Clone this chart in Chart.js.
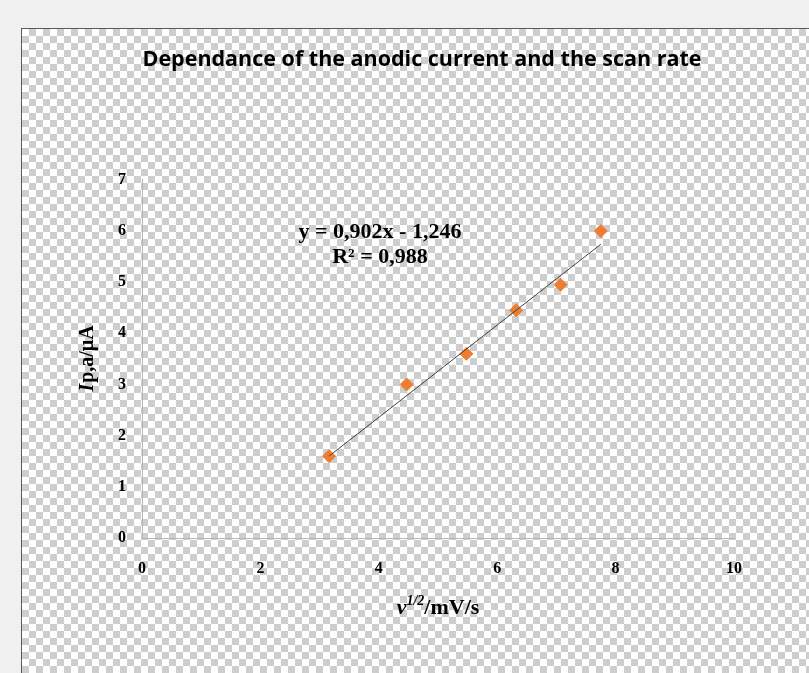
<!DOCTYPE html>
<html>
<head>
<meta charset="utf-8">
<title>Dependance of the anodic current and the scan rate</title>
<script src="https://cdn.jsdelivr.net/npm/chart.js@4.4.0/dist/chart.umd.min.js"></script>
<style>
    html, body { margin: 0; padding: 0; width: 809px; height: 673px; overflow: hidden; background: #f0f0f0; }
    #frame {
        position: absolute; left: 21px; top: 28px; width: 787px; height: 644px;
        border-top: 1px solid #5a5a5a; border-left: 1px solid #5a5a5a;
        background-color: #fff;
        background-image: conic-gradient(#cecece 25%, #fff 0 50%, #cecece 0 75%, #fff 0);
        background-size: 14px 14px;
    }
    #wrap { position: absolute; left: 0; top: 0; width: 787px; height: 644px; }
</style>
</head>
<body>
<div id="frame"><div id="wrap"><canvas id="ipChart"></canvas></div></div>
<script>
// ---- data ----
const sqrtScanRate = [3.16, 4.47, 5.48, 6.32, 7.07, 7.75];   // v^1/2
const peakCurrent  = [1.60, 3.00, 3.60, 4.45, 4.95, 6.00];   // Ip,a / µA
const trendX = [3.16, 7.75];
const trendY = [1.60, 5.74];
const xTicks = [0, 2, 4, 6, 8, 10];
const yTicks = [0, 1, 2, 3, 4, 5, 6, 7];
const equationLines = ['y = 0,902x - 1,246', 'R\u00b2 = 0,988'];
const equationPos = { x: 4.02, y: [5.98, 5.49] };

const SERIF = "'Liberation Serif', 'Times New Roman', serif";

// axis titles + trendline equation (mixed italic / superscript text)
const labelsPlugin = {
    id: 'labels',
    afterDraw(chart) {
        const ctx = chart.ctx;
        const area = chart.chartArea;
        const xs = chart.scales.x, ys = chart.scales.y;
        ctx.save();
        ctx.fillStyle = '#000';
        ctx.textBaseline = 'middle';

        // equation
        ctx.font = 'bold 22px ' + SERIF;
        ctx.textAlign = 'center';
        equationLines.forEach((t, i) => {
            ctx.fillText(t, xs.getPixelForValue(equationPos.x), ys.getPixelForValue(equationPos.y[i]));
        });

        // y title: "Ip,a/µA" with italic I
        ctx.textAlign = 'left';
        const fI = 'italic bold 20px ' + SERIF, fR = 'bold 20px ' + SERIF;
        ctx.font = fI; const wI = ctx.measureText('I').width;
        ctx.font = fR; const wR = ctx.measureText('p,a/\u00b5A').width;
        ctx.save();
        ctx.translate(area.left - 54, (area.top + area.bottom) / 2);
        ctx.rotate(-Math.PI / 2);
        let x0 = -(wI + wR) / 2;
        ctx.font = fI; ctx.fillText('I', x0, 0);
        ctx.font = fR; ctx.fillText('p,a/\u00b5A', x0 + wI + 1, 0);
        ctx.restore();

        // x title: "v^1/2/mV/s"
        const fv = 'italic bold 22px ' + SERIF, fs = 'italic bold 14px ' + SERIF, fm = 'bold 22px ' + SERIF;
        ctx.font = fv; const wv = ctx.measureText('v').width;
        ctx.font = fs; const ws = ctx.measureText('1/2').width;
        ctx.font = fm; const wm = ctx.measureText('/mV/s').width;
        const cy = area.bottom + 70;
        x0 = (area.left + area.right) / 2 - (wv + ws + wm) / 2;
        ctx.font = fv; ctx.fillText('v', x0, cy);
        ctx.font = fs; ctx.fillText('1/2', x0 + wv, cy - 7);
        ctx.font = fm; ctx.fillText('/mV/s', x0 + wv + ws, cy);
        ctx.restore();
    }
};

new Chart(document.getElementById('ipChart'), {
    type: 'scatter',
    data: {
        datasets: [
            {
                label: 'Linear trend',
                type: 'line',
                data: trendX.map((x, i) => ({ x: x, y: trendY[i] })),
                borderColor: '#404040',
                borderWidth: 1,
                pointRadius: 0,
                fill: false,
                order: 0,
            },
            {
                label: 'Ip,a',
                data: sqrtScanRate.map((x, i) => ({ x: x, y: peakCurrent[i] })),
                pointStyle: 'rectRot',
                pointRadius: 6.5,
                pointHoverRadius: 6.5,
                backgroundColor: '#ed7d31',
                borderColor: '#ed7d31',
                borderWidth: 1,
                order: 1,
            }
        ]
    },
    options: {
        responsive: true,
        maintainAspectRatio: false,
        animation: false,
        layout: { padding: { left: 88, right: 75, top: 0, bottom: 95 } },
        plugins: {
            legend: { display: false },
            tooltip: { enabled: false },
            title: {
                display: true,
                text: 'Dependance of the anodic current and the scan rate',
                color: '#000',
                font: { family: "'Open Sans', sans-serif", size: 21.5, weight: 'bold' },
                padding: { top: 18, bottom: 107 },
            }
        },
        scales: {
            x: {
                type: 'linear',
                min: 0, max: 10,
                afterBuildTicks: s => { s.ticks = xTicks.map(v => ({ value: v })); },
                afterFit: s => { s.height = 40; },
                grid: { display: false, drawTicks: false },
                border: { display: true, color: '#b5b5b5', width: 1 },
                ticks: { color: '#000', padding: 21, font: { family: SERIF, size: 16, weight: 'bold' } },
            },
            y: {
                type: 'linear',
                min: 0, max: 7,
                afterBuildTicks: s => { s.ticks = yTicks.map(v => ({ value: v })); },
                afterFit: s => { s.width = 32; },
                grid: { display: false, drawTicks: false },
                border: { display: true, color: '#b5b5b5', width: 1 },
                ticks: { color: '#000', padding: 16, font: { family: SERIF, size: 16, weight: 'bold' } },
            }
        }
    },
    plugins: [labelsPlugin]
});
</script>
</body>
</html>
